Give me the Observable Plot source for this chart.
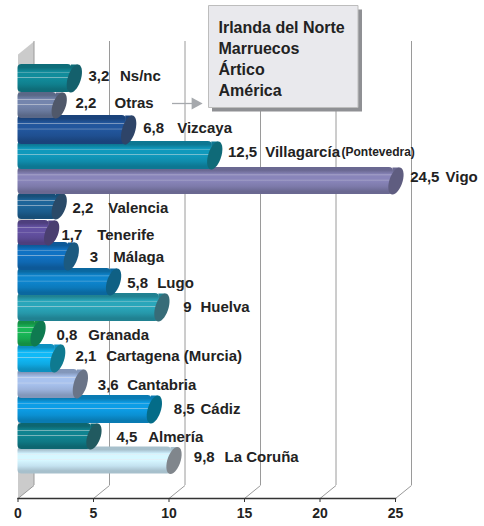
<!DOCTYPE html>
<html>
<head>
<meta charset="utf-8">
<style>html,body{margin:0;padding:0;background:#fff;overflow:hidden}svg{display:block;background:#fff}</style>
<script src="https://cdn.jsdelivr.net/npm/d3@7"></script>
<script src="https://cdn.jsdelivr.net/npm/@observablehq/plot@0.6"></script>
</head>
<body>
<script>
// Data
const names = ["Ns/nc","Otras","Vizcaya","Villagarcía","Vigo","Valencia","Tenerife","Málaga","Lugo","Huelva","Granada","Cartagena (Murcia)","Cantabria","Cádiz","Almería","La Coruña"];
const values = [3.2,2.2,6.8,12.5,24.5,2.2,1.7,3,5.8,9,0.8,2.1,3.6,8.5,4.5,9.8];
const valueLabels = ["3,2","2,2","6,8","12,5","24,5","2,2","1,7","3","5,8","9","0,8","2,1","3,6","8,5","4,5","9,8"];
const otherItems = ["Irlanda del Norte","Marruecos","Ártico","América"];
const xTicks = [0,5,10,15,20,25];
// Colours
const bodyColors = ["#10808e","#6a7a9e","#1f4f90","#0f8cac","#7d7aaa","#1b5c8c","#5b4a94","#0f68b2","#0c7abc","#2698aa","#17a850","#0fa9e2","#9ab1da","#0b90d2","#0f7884","#c4e2f0"];
const capColors = ["#14606c","#50586a","#2e4468","#0f6a78","#5f5d80","#2a4a68","#4a3f70","#1c5a80","#0f6084","#376c78","#0f7a50","#0f7a90","#6a7488","#046c88","#215a60","#80868c"];
// Layout (pixels)
const barSizes = [28,26,29,28,27,26,25,28,27,28,26,28,29,28,26,27];
const barShift = [0,1.5,0.5,0.5,0.5,0.5,1.5,-0.5,-0.5,-0.5,0,-0.5,-0.5,-0.5,1,-0.5];
const valueLeft = [88,75,142.7,227.5,409.7,72,61,89.3,126.7,182.7,56,75,97.3,173.3,116,193.3];
const nameLeft = [119.5,114,176.7,264.7,445,107.7,96.7,112.7,156.7,200,87.7,105.7,126.7,200,147.7,224];
const labelMid = [76,103,128,152,177,208,235,257,283,307,334.7,356,384.7,408.7,437,457];
const gridCenter = i => 78 + 25.5 * i;
const X0 = 17.5, SKEW = 3.5, CAP_RX = 6.8, CAP_DX = 8;
const FONT = "'Liberation Sans Narrow','Liberation Sans',sans-serif";
const INK = "#222";

const poly = pts => ({draw(c){pts.forEach((p,i)=> i? c.lineTo(p[0],p[1]) : c.moveTo(p[0],p[1])); c.closePath();}});
const openLine = pts => ({draw(c){pts.forEach((p,i)=> i? c.lineTo(p[0],p[1]) : c.moveTo(p[0],p[1]));}});
// sheared ellipse for the bar end
const capSymbol = h => ({draw(c){
  const K = 0.5523, ry = h/2;
  const P = (u,v) => [CAP_RX*u + SKEW*v, -ry*v];
  const seg = (a,b,d) => c.bezierCurveTo(...P(...a),...P(...b),...P(...d));
  c.moveTo(...P(1,0));
  seg([1,K],[K,1],[0,1]); seg([-K,1],[-1,K],[-1,0]); seg([-1,-K],[-K,-1],[0,-1]); seg([K,-1],[1,-K],[1,0]);
  c.closePath();
}});

const rows = names.map((name,i)=>({name,value:values[i],i,label:valueLabels[i]}));

function gradients(){
  const defs = d3.create("svg:defs");
  bodyColors.forEach((col,i)=>{
    const g = defs.append("linearGradient").attr("id","bar"+i).attr("x1",0).attr("x2",0).attr("y1",0).attr("y2",1);
    const base = d3.color(col), dark = base.darker(0.45).formatHex(), bright = base.brighter(0.25).formatHex(), hi = d3.interpolateRgb(col,"#ffffff")(0.45);
    [[0,dark],[0.12,dark],[0.22,col],[0.27,bright],[0.29,hi],[0.32,bright],[0.46,bright],[0.48,hi],[0.51,bright],[0.72,col],[0.9,dark],[1,dark]]
      .forEach(([o,c])=>g.append("stop").attr("offset",o).attr("stop-color",c));
  });
  return defs.node();
}

const label = (txt, left, i, size=15) => Plot.text([rows[i]],{
  x:()=>0, y:"name", text:()=>txt, dx:left-X0, dy:labelMid[i]-gridCenter(i),
  textAnchor:"start", lineAnchor:"middle", fontSize:size, fontWeight:"bold", fontFamily:FONT, fill:INK
});

const barMarks = rows.slice().reverse().flatMap(r=>{
  const i=r.i,h=barSizes[i],inset=(25.5-h)/2,dy=barShift[i];
  return [
    Plot.barX([r],{x1:()=>0,x2:"value",y:"name",fill:`url(#bar${i})`,insetTop:inset,insetBottom:inset,insetRight:-(CAP_DX-SKEW+1),rx:4,dy}),
    Plot.dot([r],{x:"value",y:"name",dx:CAP_DX,dy,fill:`url(#bar${i})`,stroke:"none",symbol:poly([[-SKEW,h/2],[-SKEW,-h/2],[SKEW,-h/2],[0,0]])}),
    Plot.dot([r],{x:"value",y:"name",dx:CAP_DX,dy,fill:capColors[i],stroke:"none",symbol:capSymbol(h)})
  ];
});

const chart = Plot.plot({
  width:484, height:526,
  marginTop:41, marginBottom:28, marginLeft:X0, marginRight:89,
  style:{background:"#fff",fontFamily:FONT},
  x:{domain:[0,25],axis:null},
  y:{type:"band",domain:names,range:[65.25,473.25],padding:0,round:false,axis:null},
  marks:[
    gradients,
    // back wall
    Plot.dot([0],{x:d=>d,frameAnchor:"bottom",fill:"#cbcbcb",stroke:"none",symbol:poly([[0,0],[16,-13],[16,-457],[0,-444]])}),
    // back grid and floor lines
    Plot.ruleX(xTicks,{dx:16,insetBottom:13,stroke:"#9a9a9a",strokeWidth:1}),
    Plot.dot(xTicks,{x:d=>d,frameAnchor:"bottom",fill:"none",stroke:"#9a9a9a",strokeWidth:1,symbol:openLine([[0,0],[16,-13]])}),
    ...barMarks,
    // x axis
    Plot.frame({anchor:"bottom",stroke:"#333",strokeWidth:1.4}),
    Plot.axisX({ticks:xTicks,tickSize:4,tickPadding:6,label:null,fontSize:14,fontWeight:"bold",fontFamily:FONT,fill:INK,stroke:"#333",tickFormat:d=>d}),
    // labels
    ...rows.map(r=>label(r.label,valueLeft[r.i],r.i)),
    ...rows.map(r=>label(r.name,nameLeft[r.i],r.i)),
    label("(Pontevedra)",341,3,12),
    // arrow
    Plot.link([1],{x1:()=>10.2,x2:()=>11.6,y1:()=>"Otras",y2:()=>"Otras",stroke:"#a6a9ad",strokeWidth:1.3,dy:-0.5}),
    Plot.dot([1],{x:()=>11.5,y:()=>"Otras",dy:-0.5,fill:"#a6a9ad",stroke:"none",symbol:poly([[0,-6],[0,6],[11,0]])}),
    // box
    Plot.dot([0],{frameAnchor:"top-left",fill:"#8f9094",stroke:"none",symbol:poly([[194,-32],[344,-32],[344,70],[194,70]])}),
    Plot.dot([0],{frameAnchor:"top-left",fill:"#e9e9ed",stroke:"#bdbdbd",strokeWidth:1,symbol:poly([[190.5,-36],[340,-36],[340,66],[190.5,66]])}),
    ...otherItems.map((t,k)=>Plot.text([t],{frameAnchor:"top-left",text:d=>d,dx:200.5,dy:-14+21*k,textAnchor:"start",lineAnchor:"middle",fontSize:16,fontWeight:"bold",fontFamily:FONT,fill:INK}))
  ]
});
document.body.appendChild(chart);
</script>
</body>
</html>
